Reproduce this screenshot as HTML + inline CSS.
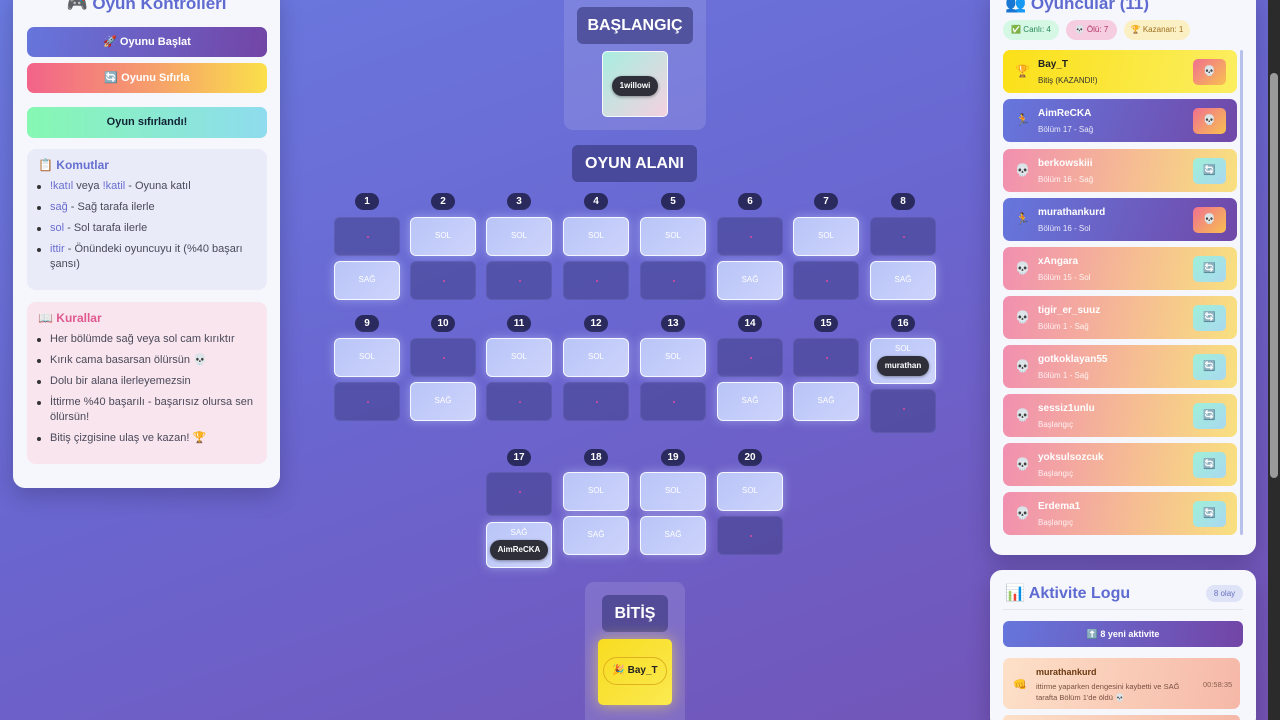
<!DOCTYPE html>
<html><head><meta charset="utf-8">
<style>
*{box-sizing:border-box;margin:0;padding:0}
html,body{width:1280px;height:720px;overflow:hidden}
body{position:relative;font-family:"Liberation Sans","DejaVu Sans",sans-serif;background:linear-gradient(160deg,#6a7ae0 0%,#6a66d0 45%,#7452b4 100%)}
.a{position:absolute}
.panel{background:#f6f7fc;border-radius:12px;box-shadow:0 8px 24px rgba(0,0,0,.2)}
.btn{position:absolute;left:27px;width:240px;height:30px;border-radius:7px;color:#fff;font-weight:bold;font-size:11px;text-align:center;line-height:30px}
ul{list-style:none}
li{position:relative;padding-left:23px;font-size:11px;color:#4a4a5a;line-height:15px;margin-bottom:6px}
li:before{content:"";position:absolute;left:10px;top:6px;width:4px;height:4px;border-radius:50%;background:#333}
.k{color:#6a6fd0}
.num{position:absolute;width:24px;height:17px;margin-left:-12px;border-radius:9px;background:#2a2a5e;color:#fff;font-size:10px;font-weight:bold;text-align:center;line-height:17px}
.c{position:absolute;width:66px;height:39px;border-radius:6px;font-size:8px;color:#fff;text-align:center}
.on{background:linear-gradient(135deg,#b9c5f8,#cdd4fb);border:1.5px solid rgba(255,255,255,.85);line-height:36px;box-shadow:0 0 10px rgba(200,210,255,.5)}
.off{background:rgba(60,60,130,.5);border:1px solid rgba(120,120,200,.3)}
.off:after{content:"";position:absolute;left:32px;top:18px;width:2px;height:2px;border-radius:50%;background:#e04aa0}
.pill{display:inline-block;background:#2f2f3a;color:#fff;font-size:8px;font-weight:bold;border-radius:10px;padding:0 8px;height:20px;line-height:20px;box-shadow:0 1px 3px rgba(0,0,0,.4)}
.lbl{position:absolute;background:rgba(45,45,110,.55);color:#fff;font-weight:bold;font-size:16px;text-align:center;border-radius:6px;line-height:37px}
.pl{position:absolute;left:1003px;width:234px;height:43px;border-radius:7px}
.pl .ic{position:absolute;left:12px;top:14px;font-size:12px}
.pl .n{position:absolute;left:35px;top:9px;font-size:10px;font-weight:bold;color:#fff}
.pl .s{position:absolute;left:35px;top:26px;font-size:8px;color:rgba(255,255,255,.85)}
.pl .b{position:absolute;right:11px;top:9px;width:33px;height:26px;border-radius:5px;text-align:center;line-height:26px;font-size:10px}
.dead{background:linear-gradient(100deg,#f18fb0,#f6c090 60%,#f8e080)}
.run{background:linear-gradient(110deg,#6677dd,#7048a8)}
.bR{background:linear-gradient(135deg,#9ff0d8,#a9d8f0);color:#4a7ad8}
.bK{background:linear-gradient(135deg,#f07090,#f8c050)}
</style></head><body>

<!-- LEFT PANEL -->
<div class="a panel" style="left:13px;top:-12px;width:267px;height:500px"></div>
<div class="a" style="left:13px;top:-6px;width:267px;text-align:center;font-size:17px;font-weight:bold;color:#5f6bd0">🎮 Oyun Kontrolleri</div>
<div class="btn" style="top:27px;background:linear-gradient(100deg,#6676dc,#7245a6)">🚀 Oyunu Başlat</div>
<div class="btn" style="top:63px;background:linear-gradient(90deg,#f2638a,#f6a26a 55%,#fbe04a)">🔄 Oyunu Sıfırla</div>
<div class="btn" style="top:107px;height:31px;line-height:31px;color:#123;background:linear-gradient(90deg,#86f8b2,#8edcee)">Oyun sıfırlandı!</div>
<div class="a" style="left:27px;top:149px;width:240px;height:141px;background:#e9ebf8;border-radius:9px;padding:9px 0 0 0">
 <div style="font-size:12px;font-weight:bold;color:#6670d0;padding-left:11px;margin-bottom:7px">📋 Komutlar</div>
 <ul><li><span class="k">!katıl</span> veya <span class="k">!katil</span> - Oyuna katıl</li>
 <li><span class="k">sağ</span> - Sağ tarafa ilerle</li>
 <li><span class="k">sol</span> - Sol tarafa ilerle</li>
 <li><span class="k">ittir</span> - Önündeki oyuncuyu it (%40 başarı şansı)</li></ul>
</div>
<div class="a" style="left:27px;top:302px;width:240px;height:162px;background:#f9e5ee;border-radius:9px;padding:9px 0 0 0">
 <div style="font-size:12px;font-weight:bold;color:#e05a90;padding-left:11px;margin-bottom:7px">📖 Kurallar</div>
 <ul><li>Her bölümde sağ veya sol cam kırıktır</li>
 <li>Kırık cama basarsan ölürsün 💀</li>
 <li>Dolu bir alana ilerleyemezsin</li>
 <li>İttirme %40 başarılı - başarısız olursa sen ölürsün!</li>
 <li>Bitiş çizgisine ulaş ve kazan! 🏆</li></ul>
</div>

<!-- CENTER -->
<div class="a" style="left:564px;top:-10px;width:142px;height:140px;background:rgba(255,255,255,.12);border-radius:9px"></div>
<div class="lbl" style="left:577px;top:7px;width:116px">BAŞLANGIÇ</div>
<div class="a" style="left:602px;top:51px;width:66px;height:66px;border-radius:5px;background:linear-gradient(135deg,#a8eee0,#f4d0e0);border:1.5px solid rgba(255,255,255,.8);text-align:center;padding-top:23px"><span class="pill">1willowi</span></div>
<div class="lbl" style="left:572px;top:145px;width:125px">OYUN ALANI</div>

<!-- row1 -->
<div class="num" style="left:367px;top:193px">1</div><div class="num" style="left:443px;top:193px">2</div><div class="num" style="left:519px;top:193px">3</div><div class="num" style="left:596px;top:193px">4</div><div class="num" style="left:673px;top:193px">5</div><div class="num" style="left:750px;top:193px">6</div><div class="num" style="left:826px;top:193px">7</div><div class="num" style="left:903px;top:193px">8</div>
<div class="c off" style="left:334px;top:217px"></div><div class="c on" style="left:334px;top:261px">SAĞ</div>
<div class="c on" style="left:410px;top:217px">SOL</div><div class="c off" style="left:410px;top:261px"></div>
<div class="c on" style="left:486px;top:217px">SOL</div><div class="c off" style="left:486px;top:261px"></div>
<div class="c on" style="left:563px;top:217px">SOL</div><div class="c off" style="left:563px;top:261px"></div>
<div class="c on" style="left:640px;top:217px">SOL</div><div class="c off" style="left:640px;top:261px"></div>
<div class="c off" style="left:717px;top:217px"></div><div class="c on" style="left:717px;top:261px">SAĞ</div>
<div class="c on" style="left:793px;top:217px">SOL</div><div class="c off" style="left:793px;top:261px"></div>
<div class="c off" style="left:870px;top:217px"></div><div class="c on" style="left:870px;top:261px">SAĞ</div>

<!-- row2 -->
<div class="num" style="left:367px;top:315px">9</div><div class="num" style="left:443px;top:315px">10</div><div class="num" style="left:519px;top:315px">11</div><div class="num" style="left:596px;top:315px">12</div><div class="num" style="left:673px;top:315px">13</div><div class="num" style="left:750px;top:315px">14</div><div class="num" style="left:826px;top:315px">15</div><div class="num" style="left:903px;top:315px">16</div>
<div class="c on" style="left:334px;top:338px">SOL</div><div class="c off" style="left:334px;top:382px"></div>
<div class="c off" style="left:410px;top:338px"></div><div class="c on" style="left:410px;top:382px">SAĞ</div>
<div class="c on" style="left:486px;top:338px">SOL</div><div class="c off" style="left:486px;top:382px"></div>
<div class="c on" style="left:563px;top:338px">SOL</div><div class="c off" style="left:563px;top:382px"></div>
<div class="c on" style="left:640px;top:338px">SOL</div><div class="c off" style="left:640px;top:382px"></div>
<div class="c off" style="left:717px;top:338px"></div><div class="c on" style="left:717px;top:382px">SAĞ</div>
<div class="c off" style="left:793px;top:338px"></div><div class="c on" style="left:793px;top:382px">SAĞ</div>
<div class="c on" style="left:870px;top:338px;height:46px;line-height:normal;padding-top:5px">SOL<br><span class="pill" style="margin-top:3px">murathan</span></div>
<div class="c off" style="left:870px;top:389px;height:44px"></div>

<!-- row3 -->
<div class="num" style="left:519px;top:449px">17</div><div class="num" style="left:596px;top:449px">18</div><div class="num" style="left:673px;top:449px">19</div><div class="num" style="left:750px;top:449px">20</div>
<div class="c off" style="left:486px;top:472px;height:44px"></div>
<div class="c on" style="left:486px;top:522px;height:46px;line-height:normal;padding-top:5px">SAĞ<br><span class="pill" style="margin-top:3px">AimReCKA</span></div>
<div class="c on" style="left:563px;top:472px">SOL</div><div class="c on" style="left:563px;top:516px">SAĞ</div>
<div class="c on" style="left:640px;top:472px">SOL</div><div class="c on" style="left:640px;top:516px">SAĞ</div>
<div class="c on" style="left:717px;top:472px">SOL</div><div class="c off" style="left:717px;top:516px"></div>

<div class="a" style="left:585px;top:582px;width:100px;height:150px;background:rgba(255,255,255,.12);border-radius:9px"></div>
<div class="lbl" style="left:602px;top:595px;width:66px">BİTİŞ</div>
<div class="a" style="left:598px;top:639px;width:74px;height:66px;border-radius:5px;background:linear-gradient(135deg,#f8dc20,#fbea50);box-shadow:0 0 16px rgba(255,230,80,.6);padding-top:18px;text-align:center"><span style="display:inline-block;border:1.5px solid #e0b020;border-radius:14px;height:28px;line-height:26px;padding:0 8px;font-size:10px;font-weight:bold;color:#222">🎉 Bay_T</span></div>

<!-- RIGHT PANEL -->
<div class="a panel" style="left:990px;top:-12px;width:266px;height:567px"></div>
<div class="a" style="left:1005px;top:-6px;font-size:17px;font-weight:bold;color:#5f6bd0">👥 Oyuncular (11)</div>
<div class="a" style="left:1003px;top:20px;width:56px;height:20px;border-radius:10px;background:#d4f8e4;color:#2a8a5a;font-size:8px;text-align:center;line-height:20px">✅ Canlı: 4</div>
<div class="a" style="left:1066px;top:20px;width:51px;height:20px;border-radius:10px;background:#f6cde0;color:#b03060;font-size:8px;text-align:center;line-height:20px">💀 Ölü: 7</div>
<div class="a" style="left:1124px;top:20px;width:66px;height:20px;border-radius:10px;background:#fbf0c4;color:#a07020;font-size:8px;text-align:center;line-height:20px">🏆 Kazanan: 1</div>
<div class="a" style="left:1240px;top:50px;width:3px;height:485px;background:#b8c0ec;border-radius:2px"></div>

<div class="pl" style="top:50px;background:linear-gradient(100deg,#fbe018,#fbee60)"><span class="ic">🏆</span><span class="n" style="color:#222">Bay_T</span><span class="s" style="color:#333">Bitiş (KAZANDI!)</span><span class="b bK">💀</span></div>
<div class="pl run" style="top:99px"><span class="ic">🏃</span><span class="n">AimReCKA</span><span class="s">Bölüm 17 - Sağ</span><span class="b bK">💀</span></div>
<div class="pl dead" style="top:149px"><span class="ic">💀</span><span class="n">berkowskiii</span><span class="s">Bölüm 16 - Sağ</span><span class="b bR">🔄</span></div>
<div class="pl run" style="top:198px"><span class="ic">🏃</span><span class="n">murathankurd</span><span class="s">Bölüm 16 - Sol</span><span class="b bK">💀</span></div>
<div class="pl dead" style="top:247px"><span class="ic">💀</span><span class="n">xAngara</span><span class="s">Bölüm 15 - Sol</span><span class="b bR">🔄</span></div>
<div class="pl dead" style="top:296px"><span class="ic">💀</span><span class="n">tigir_er_suuz</span><span class="s">Bölüm 1 - Sağ</span><span class="b bR">🔄</span></div>
<div class="pl dead" style="top:345px"><span class="ic">💀</span><span class="n">gotkoklayan55</span><span class="s">Bölüm 1 - Sağ</span><span class="b bR">🔄</span></div>
<div class="pl dead" style="top:394px"><span class="ic">💀</span><span class="n">sessiz1unlu</span><span class="s">Başlangıç</span><span class="b bR">🔄</span></div>
<div class="pl dead" style="top:443px"><span class="ic">💀</span><span class="n">yoksulsozcuk</span><span class="s">Başlangıç</span><span class="b bR">🔄</span></div>
<div class="pl dead" style="top:492px"><span class="ic">💀</span><span class="n">Erdema1</span><span class="s">Başlangıç</span><span class="b bR">🔄</span></div>

<!-- ACTIVITY -->
<div class="a panel" style="left:990px;top:570px;width:266px;height:160px"></div>
<div class="a" style="left:1005px;top:583px;font-size:16px;font-weight:bold;color:#5f6bd0">📊 Aktivite Logu</div>
<div class="a" style="left:1206px;top:585px;width:37px;height:17px;border-radius:9px;background:#dfe3f8;color:#6670c0;font-size:8px;text-align:center;line-height:17px">8 olay</div>
<div class="a" style="left:1003px;top:609px;width:240px;height:1px;background:#e2e4ee"></div>
<div class="a" style="left:1003px;top:621px;width:240px;height:26px;border-radius:6px;background:linear-gradient(100deg,#6676dc,#7245a6);color:#fff;font-size:9px;font-weight:bold;text-align:center;line-height:26px">⬆️ 8 yeni aktivite</div>
<div class="a" style="left:1003px;top:658px;width:237px;height:51px;border-radius:7px;background:linear-gradient(100deg,#fde0c8,#f6b8a8)">
 <span class="a" style="left:10px;top:20px;font-size:11px">👊</span>
 <span class="a" style="left:33px;top:9px;font-size:9px;font-weight:bold;color:#6a3a10">murathankurd</span>
 <span class="a" style="left:33px;top:23px;width:165px;font-size:7.5px;line-height:11px;color:#7a5040">ittirme yaparken dengesini kaybetti ve SAĞ tarafta Bölüm 1'de öldü 💀</span>
 <span class="a" style="left:200px;top:22px;font-size:7.5px;color:#8a6050">00:58:35</span>
</div>
<div class="a" style="left:1003px;top:715px;width:237px;height:5px;border-radius:7px 7px 0 0;background:linear-gradient(100deg,#fde0c8,#f6b8a8)"></div>

<!-- browser scrollbar -->
<div class="a" style="left:1268px;top:0;width:12px;height:720px;background:#2b2b2b"></div>
<div class="a" style="left:1270px;top:73px;width:8px;height:405px;background:#9a9a9a;border-radius:4px"></div>
</body></html>
